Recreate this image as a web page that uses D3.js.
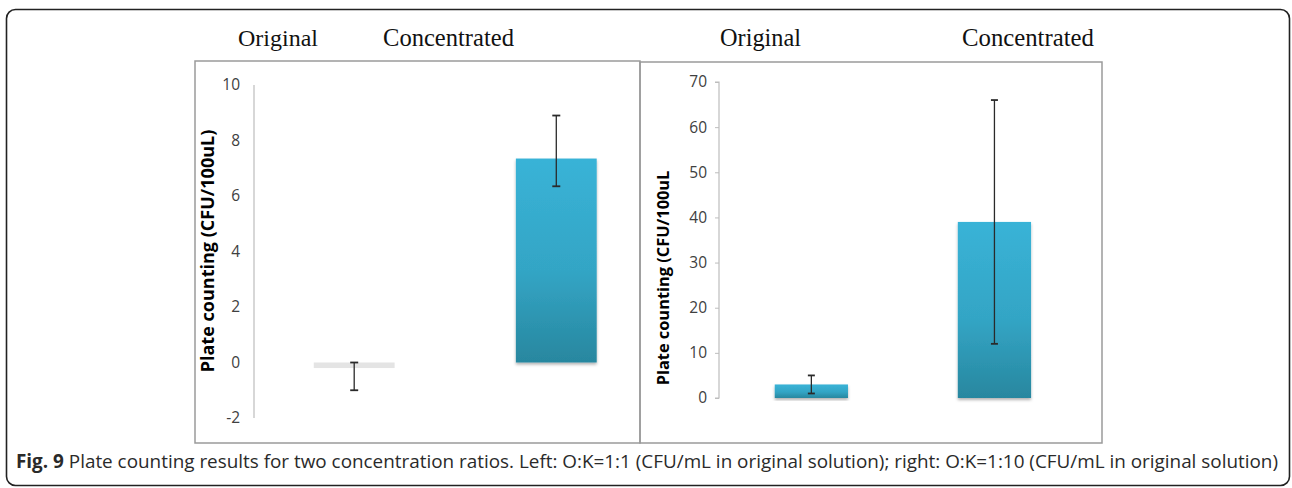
<!DOCTYPE html>
<html>
<head>
<meta charset="utf-8">
<script src="https://cdn.jsdelivr.net/npm/d3@7"></script>
<style>
  html, body { margin: 0; padding: 0; background: #fff; }
  svg { display: block; }
</style>
</head>
<body>
<svg id="fig" width="1292" height="488"></svg>
<script>
// Plate counting data (CFU/100uL), mean with error-bar extents
const categories = ["Original", "Concentrated"];

const leftMeans = [-0.2, 7.35];
const leftErrLow = [-1, 6.35];
const leftErrHigh = [0, 8.9];
const leftTicks = [-2, 0, 2, 4, 6, 8, 10];

const rightMeans = [3, 39];
const rightErrLow = [1, 12];
const rightErrHigh = [5, 66];
const rightTicks = [0, 10, 20, 30, 40, 50, 60, 70];

const caption = "Plate counting results for two concentration ratios. Left: O:K=1:1 (CFU/mL in original solution); right: O:K=1:10 (CFU/mL in original solution)";

const svg = d3.select("#fig");
const defs = svg.append("defs");

const grad = defs.append("linearGradient")
  .attr("id", "barFill").attr("x1", 0).attr("y1", 0).attr("x2", 0).attr("y2", 1);
grad.append("stop").attr("offset", "0%").attr("stop-color", "#39b3d7");
grad.append("stop").attr("offset", "55%").attr("stop-color", "#33a5c5");
grad.append("stop").attr("offset", "100%").attr("stop-color", "#28879f");

const shadow = defs.append("filter").attr("id", "barShadow")
  .attr("x", "-10%").attr("y", "-10%").attr("width", "120%").attr("height", "130%");
shadow.append("feDropShadow").attr("dx", 0).attr("dy", 2)
  .attr("stdDeviation", 1.6).attr("flood-color", "#000").attr("flood-opacity", 0.3);

// Outer figure frame
svg.append("rect")
  .attr("x", 6.5).attr("y", 9.5).attr("width", 1283).attr("height", 476)
  .attr("rx", 9).attr("fill", "none").attr("stroke", "#222").attr("stroke-width", 1.6);

// Shrink or grow a text's font size so it spans the given width
function fitText(sel, width) {
  const node = sel.node();
  const fs = parseFloat(sel.attr("font-size"));
  const len = node.getComputedTextLength();
  if (len > 0) sel.attr("font-size", (fs * width / len).toFixed(2));
  return sel;
}

function drawPanel(p) {
  const g = svg.append("g");

  // panel box
  g.append("rect")
    .attr("x", p.box[0]).attr("y", p.box[1])
    .attr("width", p.box[2] - p.box[0]).attr("height", p.box[3] - p.box[1])
    .attr("fill", "none").attr("stroke", "#9a9a9a").attr("stroke-width", 1.5);

  const y = d3.scaleLinear().domain(p.domain).range(p.yRange);
  const x = d3.scaleBand().domain(categories)
    .range(p.xRange).paddingInner(p.padInner).paddingOuter(p.padOuter).align(p.align);

  // y axis
  const axis = d3.axisLeft(y).tickValues(p.ticks)
    .tickSize(p.tickSize).tickPadding(p.tickPad).tickFormat(d => String(d));
  const ag = g.append("g").attr("transform", `translate(${p.xRange[0]},0)`).call(axis);
  ag.select(".domain").attr("stroke", "#bdbdbd").attr("stroke-width", 1.2)
    .attr("d", `M${-p.tickSize},${y(p.domain[1])}H0V${y(p.domain[0])}H${-p.tickSize}`);
  ag.selectAll(".tick line").attr("stroke", "#bdbdbd");
  ag.selectAll(".tick text")
    .attr("font-family", "'Open Sans', sans-serif").attr("font-size", 15.5)
    .attr("fill", "#404040");

  // bars
  const means = p.means;
  g.selectAll("rect.bar").data(categories).join("rect")
    .attr("class", "bar")
    .attr("x", d => x(d))
    .attr("width", x.bandwidth())
    .attr("y", (d, i) => y(Math.max(0, means[i])))
    .attr("height", (d, i) => Math.abs(y(means[i]) - y(0)))
    .attr("fill", (d, i) => means[i] < 0 ? "#e4e4e4" : "url(#barFill)")
    .attr("filter", (d, i) => means[i] < 0 ? null : "url(#barShadow)");

  // error bars
  const eg = g.selectAll("g.err").data(categories).join("g").attr("class", "err")
    .attr("stroke", "#2a2a2a").attr("stroke-width", 1.3);
  eg.append("line")
    .attr("x1", d => x(d) + x.bandwidth() / 2).attr("x2", d => x(d) + x.bandwidth() / 2)
    .attr("y1", (d, i) => y(p.errHigh[i])).attr("y2", (d, i) => y(p.errLow[i]));
  [p.errHigh, p.errLow].forEach(arr => {
    eg.append("line")
      .attr("x1", d => x(d) + x.bandwidth() / 2 - p.cap).attr("x2", d => x(d) + x.bandwidth() / 2 + p.cap)
      .attr("y1", (d, i) => y(arr[i])).attr("y2", (d, i) => y(arr[i]))
      .attr("stroke-width", 1.8);
  });

  // y axis title
  const t = g.append("text")
    .attr("transform", `translate(${p.titleX},${p.titleY}) rotate(-90)`)
    .attr("text-anchor", "middle")
    .attr("font-family", "'Open Sans', sans-serif").attr("font-weight", "bold")
    .attr("font-size", 14).attr("fill", "#000")
    .text(p.yTitle);
  fitText(t, p.yTitleLen);

  // column headings above the panel
  p.heads.forEach((h, i) => {
    const ht = svg.append("text")
      .attr("x", h.x).attr("y", 46).attr("text-anchor", "middle")
      .attr("font-family", "'Liberation Serif', 'Times New Roman', serif")
      .attr("font-size", 24).attr("fill", "#111")
      .text(categories[i]);
    fitText(ht, h.w);
  });
}

drawPanel({
  box: [195, 61, 640, 443],
  domain: [-2, 10], yRange: [418, 85],
  xRange: [254, 640], padInner: 0.6, padOuter: 0.255, align: 0.58,
  ticks: leftTicks, tickSize: 0, tickPad: 14,
  means: leftMeans, errLow: leftErrLow, errHigh: leftErrHigh, cap: 4,
  yTitle: "Plate counting (CFU/100uL)", titleX: 214, titleY: 251, yTitleLen: 243,
  heads: [{ x: 278, w: 80 }, { x: 448.5, w: 131 }]
});

drawPanel({
  box: [640, 62, 1102, 443],
  domain: [0, 70], yRange: [398, 82],
  xRange: [719, 1102], padInner: 0.6, padOuter: 0.346, align: 0.44,
  ticks: rightTicks, tickSize: 4, tickPad: 8,
  means: rightMeans, errLow: rightErrLow, errHigh: rightErrHigh, cap: 3.5,
  yTitle: "Plate counting (CFU/100uL", titleX: 669, titleY: 278, yTitleLen: 215,
  heads: [{ x: 760.5, w: 81 }, { x: 1028, w: 132 }]
});

// Figure caption
const cap = svg.append("text")
  .attr("x", 16).attr("y", 468)
  .attr("font-family", "'Open Sans', sans-serif").attr("font-size", 15.5).attr("fill", "#2a2a2a");
cap.append("tspan").attr("font-weight", "bold").text("Fig. 9");
cap.append("tspan").text(" " + caption);
fitText(cap, 1263);
</script>
</body>
</html>
